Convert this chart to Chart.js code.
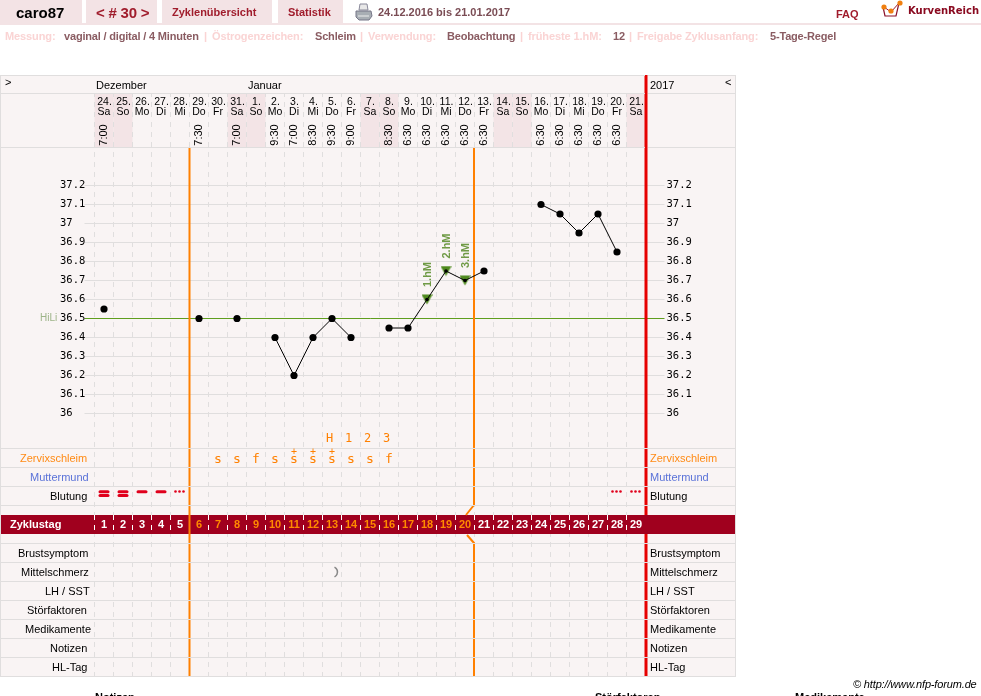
<!DOCTYPE html>
<html lang="de"><head><meta charset="utf-8"><title>caro87</title>
<script src="https://cdn.jsdelivr.net/npm/chart.js@4"></script>
<style>
html,body{margin:0;padding:0;background:#fff;width:981px;height:696px;overflow:hidden;font-family:"Liberation Sans",Arial,sans-serif}
canvas{position:absolute;left:0;top:0}
.b{position:absolute;background:#f3e3e5}
.t{position:absolute;white-space:nowrap;font:bold 11px/13px "Liberation Sans",Arial,sans-serif}
.p{color:#fad4d4;letter-spacing:-.1px}.v{color:#8a5c62;letter-spacing:-.18px}.r{color:#a01c2c}
svg{position:absolute}
</style></head><body>
<canvas id="c" width="981" height="696"></canvas>
<div class="b" style="left:0;top:0;width:82px;height:23px"></div>
<div class="b" style="left:86px;top:0;width:71px;height:23px"></div>
<div class="b" style="left:162px;top:0;width:110px;height:23px"></div>
<div class="b" style="left:278px;top:0;width:65px;height:23px"></div>
<div class="b" style="left:0;top:23px;width:981px;height:2px"></div>
<span class="t" style="left:16px;top:4px;font-size:15px;line-height:17px;color:#000">caro87</span>
<span class="t r" style="left:96px;top:4px;font-size:15px;line-height:17px;word-spacing:-.5px">&lt; # 30 &gt;</span>
<span class="t r" style="left:172px;top:6px">Zyklenübersicht</span>
<span class="t r" style="left:288px;top:6px">Statistik</span>
<svg style="left:355px;top:3px" width="18" height="18" viewBox="0 0 18 18"><path d="M5 1h7l1 6H4z" fill="#e8e8e8" stroke="#889"/><path d="M1 8h15l1 5-3 4H4l-3-3z" fill="#a8aeb4" stroke="#778"/><path d="M3 13h11" stroke="#eee"/></svg>
<span class="t" style="left:378px;top:6px;color:#7a4c54">24.12.2016 bis 21.01.2017</span>
<span class="t r" style="left:836px;top:8px">FAQ</span>
<svg style="left:880px;top:0" width="26" height="19" viewBox="0 0 26 19"><path d="M3 7l2 9h11l3-13" fill="none" stroke="#8a1028" stroke-width="1.2"/><path d="M4 7l7 5 8-9" fill="none" stroke="#a01c2c"/><circle cx="4" cy="7" r="2.6" fill="#f08010"/><circle cx="11" cy="11" r="2.6" fill="#f08010"/><circle cx="20" cy="3" r="2.6" fill="#f08010"/></svg>
<span class="t" style="left:908px;top:4px;color:#8a0a20;font:bold 10px/13px 'DejaVu Sans',sans-serif">KurvenReich</span>
<span class="t p" style="left:5px;top:30px">Messung:</span><span class="t v" style="left:64px;top:30px">vaginal / digital / 4 Minuten</span>
<span class="t p" style="left:204px;top:30px">|</span><span class="t p" style="left:212px;top:30px">Östrogenzeichen:</span><span class="t v" style="left:315px;top:30px">Schleim</span>
<span class="t p" style="left:360px;top:30px">|</span><span class="t p" style="left:368px;top:30px">Verwendung:</span><span class="t v" style="left:447px;top:30px">Beobachtung</span>
<span class="t p" style="left:520px;top:30px">|</span><span class="t p" style="left:528px;top:30px">früheste 1.hM:</span><span class="t v" style="left:613px;top:30px">12</span>
<span class="t p" style="left:629px;top:30px">|</span><span class="t p" style="left:637px;top:30px">Freigabe Zyklusanfang:</span><span class="t v" style="left:770px;top:30px">5-Tage-Regel</span>
<span class="t" style="left:853px;top:678px;font:italic 11px/13px 'Liberation Sans',Arial,sans-serif;color:#000;letter-spacing:-.15px">© http://www.nfp-forum.de</span>
<span class="t" style="left:95px;top:691px;color:#000">Notizen</span>
<span class="t" style="left:595px;top:691px;color:#000">Störfaktoren</span>
<span class="t" style="left:795px;top:691px;color:#000">Medikamente</span>
<script>
const dates=["24.","25.","26.","27.","28.","29.","30.","31.","1.","2.","3.","4.","5.","6.","7.","8.","9.","10.","11.","12.","13.","14.","15.","16.","17.","18.","19.","20.","21."];
const weekdays=["Sa","So","Mo","Di","Mi","Do","Fr","Sa","So","Mo","Di","Mi","Do","Fr","Sa","So","Mo","Di","Mi","Do","Fr","Sa","So","Mo","Di","Mi","Do","Fr","Sa"];
const times=["7:00","","","","","7:30","","7:00","","9:30","7:00","8:30","9:30","9:00","","8:30","6:30","6:30","6:30","6:30","6:30","","","6:30","6:30","6:30","6:30","6:30",""];
const cycleDays=[1,2,3,4,5,6,7,8,9,10,11,12,13,14,15,16,17,18,19,20,21,22,23,24,25,26,27,28,29];
const temps=[36.55,null,null,null,null,36.5,null,36.5,null,36.4,36.2,36.4,36.5,36.4,null,36.45,36.45,36.6,36.75,36.7,36.75,null,null,37.1,37.05,36.95,37.05,36.85,null];
const hmMarks=[null,null,null,null,null,null,null,null,null,null,null,null,null,null,null,null,null,36.6,36.75,36.7,null,null,null,null,null,null,null,null,null];
const hmLabels={17:"1.hM",18:"2.hM",19:"3.hM"};
const tempTicks=[36,36.1,36.2,36.3,36.4,36.5,36.6,36.7,36.8,36.9,37,37.1,37.2];
const peakLabels={12:"H",13:"1",14:"2",15:"3"};
const mucus={6:"s",7:"s",8:"f",9:"s",10:"s+",11:"s+",12:"s+",13:"s",14:"s",15:"f"};
const bleeding={0:2,1:2,2:1,3:1,4:0,27:0,28:0};
const painDay=12;
const leftRows=[["Zervixschleim",20,459,"#ff8a14"],["Muttermund",30,478,"#5a72d8"],["Blutung",50,497,"#000"],["Brustsymptom",18,554,"#000"],["Mittelschmerz",21,573,"#000"],["LH / SST",45,592,"#000"],["Störfaktoren",27,611,"#000"],["Medikamente",25,630,"#000"],["Notizen",50,649,"#000"],["HL-Tag",52,668,"#000"]];
const rowLines=[448,467,486,505,543,562,581,600,619,638,657];

const ORANGE="#ff8000",RED="#e60000",GRID="#e0dede",GREEN="#5f9e1e",BAND="#a0001e";
const SANS='"Liberation Sans",Arial,sans-serif',NARROW='"Liberation Sans Narrow","Liberation Sans",sans-serif',MONO='"DejaVu Sans Mono",monospace';

function txt(c,s,x,y,font,col,al){c.font=font;c.fillStyle=col;c.textAlign=al||"left";c.textBaseline="middle";c.fillText(s,x,y);}

const triangle=document.createElement("canvas");triangle.width=11;triangle.height=11;
(function(){const t=triangle.getContext("2d");t.fillStyle="#4f8a1e";t.beginPath();t.moveTo(0,.5);t.lineTo(11,.5);t.lineTo(5.5,10.5);t.closePath();t.fill();})();

const tablePlugin={id:"table",
 beforeDraw(ch){
  const c=ch.ctx,x=ch.scales.x,w=x.getPixelForValue(1)-x.getPixelForValue(0);
  c.save();
  c.fillStyle="#f9f4f4";c.fillRect(0,75,736,602);
  c.fillStyle="#f3e4e6";
  weekdays.forEach((d,i)=>{if(d==="Sa"||d==="So")c.fillRect(x.getPixelForValue(i)-w/2,94,w,53);});
  c.restore();
 },
 beforeDatasetsDraw(ch){
  const c=ch.ctx,x=ch.scales.x,y=ch.scales.y,w=x.getPixelForValue(1)-x.getPixelForValue(0);
  const edge=i=>x.getPixelForValue(i)-w/2;
  c.save();
  c.fillStyle=BAND;c.fillRect(1,515,734,19);
  c.strokeStyle="#fff";c.lineWidth=1;c.setLineDash([5,5]);c.lineDashOffset=0;
  cycleDays.forEach((d,i)=>{c.beginPath();c.moveTo(edge(i),515);c.lineTo(edge(i),534);c.stroke();});
  c.setLineDash([]);
  c.strokeStyle=ORANGE;c.lineWidth=2;
  const a=x.getPixelForValue(5)-w/2,b=x.getPixelForValue(20)-w/2-.5;
  c.beginPath();c.moveTo(a,148);c.lineTo(a,515);c.moveTo(a,534);c.lineTo(a,676);c.stroke();
  c.beginPath();c.moveTo(b,148);c.lineTo(b,505);c.lineTo(b-8,515);c.moveTo(b-7,535);c.lineTo(b,543);c.lineTo(b,676);c.stroke();
  c.fillStyle=ORANGE;c.fillRect(a-1,515,2,19);
  c.fillStyle=RED;c.fillRect(644.5,75,3,440);c.fillRect(644.5,534,3,142);
  c.fillStyle=GRID;
  [75,93,147].forEach(v=>c.fillRect(1,v,644,1));
  [75,93,147].forEach(v=>c.fillRect(648,v,87,1));
  rowLines.forEach(v=>{c.fillRect(0,v,735,1);});
  c.fillRect(0,676,736,1);c.fillRect(0,75,1,602);c.fillRect(735,75,1,602);
  txt(c,">",5,83,"11px "+SANS,"#000");txt(c,"Dezember",96,86,"11px "+SANS,"#000");txt(c,"Januar",248,86,"11px "+SANS,"#000");
  txt(c,"2017",650,86,"11px "+SANS,"#000");txt(c,"<",725,83,"11px "+SANS,"#000");
  dates.forEach((d,i)=>{const p=x.getPixelForValue(i);
    txt(c,d,p+.5,102.5,"10.5px "+NARROW,"#000","center");
    txt(c,weekdays[i],p,112.5,"10.5px "+NARROW,"#000","center");
    if(times[i]){c.save();c.translate(p,135);c.rotate(-Math.PI/2);txt(c,times[i],0,0,"11px "+SANS,"#000","center");c.restore();}
  });
  leftRows.forEach(r=>{txt(c,r[0],r[1],r[2],"11px "+SANS,r[3]);txt(c,r[0],650,r[2],"11px "+SANS,r[3]);});
  txt(c,"Zyklustag",10,524.5,"bold 11px "+SANS,"#fff");
  cycleDays.forEach((d,i)=>txt(c,String(d),x.getPixelForValue(i),524.5,"bold 11px "+SANS,(i>=5&&i<20)?"#ff8a00":"#fff","center"));
  Object.keys(peakLabels).forEach(i=>txt(c,peakLabels[i],x.getPixelForValue(+i)-2.5,439,"12px "+MONO,"#ff8000","center"));
  Object.keys(mucus).forEach(i=>{const p=x.getPixelForValue(+i),m=mucus[i];
    txt(c,m[0],p,460,"13px "+MONO,"#ff8000","center");
    if(m[1])txt(c,"+",p,452,"10px "+MONO,"#ff8000","center");});
  c.fillStyle="#e0001c";
  Object.keys(bleeding).forEach(i=>{const p=x.getPixelForValue(+i),k=bleeding[i];
    if(k===2){[490.3,494].forEach(v=>{c.beginPath();c.roundRect(p-5.5,v,11,3,1.5);c.fill();});}
    else if(k===1){c.beginPath();c.roundRect(p-5.5,490.3,11,3,1.5);c.fill();}
    else{[-4,0,4].forEach(o=>{c.beginPath();c.arc(p+o-.5,491.5,1.3,0,7);c.fill();});}
  });
  c.strokeStyle="#888";c.lineWidth=1.6;c.beginPath();c.arc(x.getPixelForValue(painDay),572,5.5,-1.1,1.1);c.stroke();
  Object.keys(hmLabels).forEach(i=>{const p=x.getPixelForValue(+i),v=y.getPixelForValue(hmMarks[i]);
    c.save();c.translate(p+1,v-25);c.rotate(-Math.PI/2);txt(c,hmLabels[i],0,0,"bold 11px "+SANS,"#6f9a45","center");c.restore();});
  txt(c,"HiLi",40,318.5,"10px "+SANS,"#9db488");
  c.restore();
 }};

const tickCol=ctx=>(ctx.tick&&ctx.tick.value===36.5)?GREEN:GRID;
const setTicks=s=>{s.ticks=tempTicks.map(v=>({value:v}));};
const yMin=34.6132,yMax=37.6816;
new Chart(document.getElementById("c"),{
 type:"line",
 plugins:[tablePlugin],
 data:{labels:cycleDays,datasets:[
  {label:"Temperatur",data:temps,borderColor:"#000",borderWidth:1,backgroundColor:"#000",spanGaps:false,tension:0,order:1,
   pointRadius:c=>hmMarks[c.dataIndex]!=null?1.8:3.6,pointHoverRadius:3.6,pointBorderWidth:0},
  {label:"Hochlage",data:hmMarks,showLine:false,pointStyle:triangle,pointRadius:6,pointBorderWidth:0,order:2}
 ]},
 options:{responsive:false,animation:false,devicePixelRatio:1,events:[],
  layout:{padding:{left:60,right:0,top:94,bottom:19}},
  plugins:{legend:{display:false},tooltip:{enabled:false}},
  scales:{
   x:{type:"category",offset:true,afterFit:s=>{s.height=0;},
      grid:{offset:true,color:GRID,lineWidth:1,drawTicks:false,tickLength:0},
      border:{display:false,dash:[5,5],dashOffset:2},ticks:{display:false}},
   y:{type:"linear",position:"left",min:yMin,max:yMax,afterBuildTicks:setTicks,afterFit:s=>{s.width=34.5;},
      grid:{color:tickCol,tickColor:tickCol,lineWidth:1,tickLength:10},border:{display:false},
      ticks:{crossAlign:"far",autoSkip:false,padding:1,color:"#000",font:{family:MONO,size:10.5},callback:v=>String(v)}},
   y2:{type:"linear",position:"right",min:yMin,max:yMax,afterBuildTicks:setTicks,afterFit:s=>{s.width=335.5;},
      grid:{drawOnChartArea:false,color:tickCol,tickColor:tickCol,lineWidth:1,tickLength:19},border:{display:false},
      ticks:{crossAlign:"near",autoSkip:false,padding:2,color:"#000",font:{family:MONO,size:10.5},callback:v=>String(v)}}
  }}
});
</script>
</body></html>
